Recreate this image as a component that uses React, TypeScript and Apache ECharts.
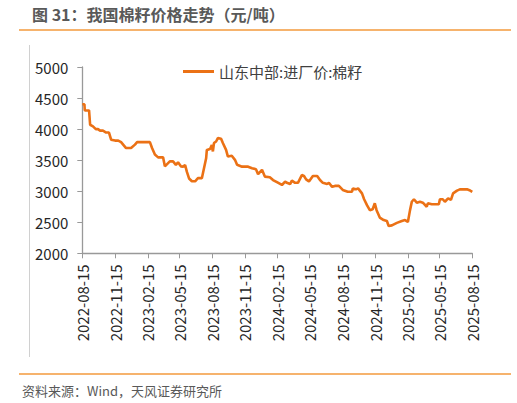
import React, { useEffect, useRef } from 'react'
import * as echarts from 'echarts'

// 山东中部:进厂价:棉籽（元/吨），读图估计
const dates = [
  '2022-08-15', '2022-08-21', '2022-08-22', '2022-09-03', '2022-09-06', '2022-09-14',
  '2022-09-22', '2022-09-28', '2022-10-04', '2022-10-12', '2022-10-21', '2022-10-29',
  '2022-11-04', '2022-11-15', '2022-11-24', '2022-12-02', '2022-12-16', '2022-12-30',
  '2023-01-10', '2023-01-16', '2023-02-21', '2023-02-27', '2023-03-07', '2023-03-16',
  '2023-03-30', '2023-04-04', '2023-04-18', '2023-04-27', '2023-05-05', '2023-05-11',
  '2023-05-19', '2023-05-25', '2023-05-31', '2023-06-05', '2023-06-11', '2023-06-19',
  '2023-06-28', '2023-07-06', '2023-07-17', '2023-07-20', '2023-07-29', '2023-07-31',
  '2023-08-09', '2023-08-14', '2023-08-17', '2023-08-20', '2023-08-26', '2023-08-31',
  '2023-09-09', '2023-09-14', '2023-09-23', '2023-09-28', '2023-10-09', '2023-10-18',
  '2023-10-24', '2023-11-07', '2023-11-24', '2023-12-05', '2023-12-16', '2023-12-22',
  '2024-01-02', '2024-01-10', '2024-01-24', '2024-02-02', '2024-02-13', '2024-02-27',
  '2024-03-07', '2024-03-12', '2024-03-21', '2024-03-26', '2024-04-04', '2024-04-12',
  '2024-04-23', '2024-04-29', '2024-05-05', '2024-05-13', '2024-05-24', '2024-06-05',
  '2024-06-13', '2024-06-21', '2024-07-03', '2024-07-08', '2024-07-17', '2024-07-25',
  '2024-08-05', '2024-08-16', '2024-08-30', '2024-09-11', '2024-09-13', '2024-09-22',
  '2024-09-28', '2024-10-09', '2024-10-15', '2024-10-23', '2024-10-31', '2024-11-08',
  '2024-11-14', '2024-11-19', '2024-11-28', '2024-12-09', '2024-12-18', '2024-12-23',
  '2025-01-01', '2025-01-15', '2025-01-29', '2025-02-07', '2025-02-15', '2025-02-21',
  '2025-02-26', '2025-03-04', '2025-03-12', '2025-03-21', '2025-03-29', '2025-04-09',
  '2025-04-12', '2025-04-23', '2025-05-13', '2025-05-16', '2025-05-24', '2025-05-30',
  '2025-06-08', '2025-06-16', '2025-06-22', '2025-07-03', '2025-07-11', '2025-07-31',
  '2025-08-09', '2025-08-15',
]

const prices = [
  4400, 4400, 4300, 4300, 4070, 4045,
  4000, 4000, 3975, 3975, 3945, 3945,
  3830, 3815, 3815, 3790, 3695, 3695,
  3750, 3790, 3790, 3695, 3590, 3545,
  3545, 3400, 3480, 3480, 3425, 3465,
  3400, 3395, 3420, 3310, 3205, 3160,
  3160, 3210, 3210, 3290, 3530, 3665,
  3680, 3745, 3640, 3775, 3800, 3855,
  3845, 3775, 3665, 3560, 3570, 3505,
  3425, 3395, 3395, 3370, 3355, 3275,
  3345, 3235, 3225, 3180, 3145, 3100,
  3155, 3135, 3115, 3170, 3135, 3135,
  3260, 3245, 3190, 3155, 3245, 3245,
  3180, 3135, 3115, 3135, 3070, 3085,
  3085, 3020, 2990, 2990, 3045, 3030,
  3045, 2965, 2870, 2775, 2695, 2710,
  2805, 2695, 2575, 2535, 2520, 2440,
  2450, 2490, 2520, 2535, 2505, 2695,
  2830, 2870, 2815, 2830, 2815, 2750,
  2805, 2790, 2790, 2870, 2870, 2830,
  2885, 2860, 2965, 3010, 3030, 3030,
  3010, 2990,
]

const tickDates = [
  '2022-08-15', '2022-11-15', '2023-02-15', '2023-05-15', '2023-08-15',
  '2023-11-15', '2024-02-15', '2024-05-15', '2024-08-15', '2024-11-15',
  '2025-02-15', '2025-05-15', '2025-08-15',
]

const seriesName = '山东中部:进厂价:棉籽'
const titleText = '图 31：我国棉籽价格走势（元/吨）'
const sourceText = '资料来源：Wind，天风证券研究所'

const cjk = '"Noto Sans CJK SC", "Microsoft YaHei", sans-serif'
const lineColor = '#EB7115'
const ruleColor = '#F39A3C'

const toTime = (d: string) => echarts.number.parseDate(d).getTime()

const App: React.FC = () => {
  const chartRef = useRef<HTMLDivElement>(null)

  useEffect(() => {
    if (!chartRef.current) return
    const chart = echarts.init(chartRef.current, undefined, { renderer: 'svg' })

    const tickTimes = tickDates.map(toTime)
    const axisLabelStyle = {
      color: '#262626',
      fontSize: 15,
      fontFamily: cjk,
    }

    chart.setOption({
      animation: false,
      backgroundColor: '#fff',
      grid: {
        left: 82.3,
        right: 44.7,
        top: 67,
        bottom: 149.7,
      },
      legend: {
        data: [seriesName],
        left: 178,
        top: 59,
        icon: 'rect',
        itemWidth: 31,
        itemHeight: 3,
        textStyle: {
          color: '#404040',
          fontSize: 15,
          fontFamily: cjk,
        },
      },
      xAxis: {
        type: 'value',
        min: tickTimes[0],
        max: tickTimes[tickTimes.length - 1],
        axisLine: { lineStyle: { color: '#999', width: 1.3 } },
        axisTick: {
          show: true,
          length: 5,
          customValues: tickTimes,
          lineStyle: { color: '#999' },
        },
        axisLabel: {
          ...axisLabelStyle,
          rotate: 90,
          margin: 11,
          customValues: tickTimes,
          formatter: (val: number) => echarts.time.format(val, '{yyyy}-{MM}-{dd}', false),
        },
        splitLine: { show: false },
      },
      yAxis: {
        type: 'value',
        min: 2000,
        max: 5000,
        interval: 500,
        axisLine: { show: true, lineStyle: { color: '#999', width: 1.3 } },
        axisTick: { show: true, length: 5, lineStyle: { color: '#999' } },
        axisLabel: {
          ...axisLabelStyle,
          margin: 14,
          formatter: (val: number) => String(val),
        },
        splitLine: { show: false },
      },
      series: [
        {
          name: seriesName,
          type: 'line',
          data: dates.map((d, i) => [toTime(d), prices[i]]),
          showSymbol: false,
          symbol: 'none',
          itemStyle: { color: lineColor },
          lineStyle: { color: lineColor, width: 2.6 },
        },
      ],
      graphic: [
        {
          type: 'text',
          left: 32,
          top: 6,
          style: {
            text: titleText,
            fill: '#595959',
            font: `bold 16px ${cjk}`,
          },
        },
        {
          type: 'line',
          shape: { x1: 19, y1: 30, x2: 511, y2: 30 },
          style: { stroke: ruleColor, lineWidth: 1.5 },
        },
        {
          type: 'line',
          shape: { x1: 29.5, y1: 45, x2: 29.5, y2: 357 },
          style: { stroke: '#d0d0d0', lineWidth: 1 },
        },
        {
          type: 'line',
          shape: { x1: 19, y1: 374, x2: 511, y2: 374 },
          style: { stroke: ruleColor, lineWidth: 1.5 },
        },
        {
          type: 'text',
          left: 22,
          top: 384,
          style: {
            text: sourceText,
            fill: '#595959',
            font: `13px ${cjk}`,
          },
        },
      ],
    })

    return () => {
      chart.dispose()
    }
  }, [])

  return (
    <div
      ref={chartRef}
      style={{
        position: 'fixed',
        left: 0,
        top: 0,
        width: 517,
        height: 403,
        background: '#fff',
      }}
    />
  )
}

export default App
